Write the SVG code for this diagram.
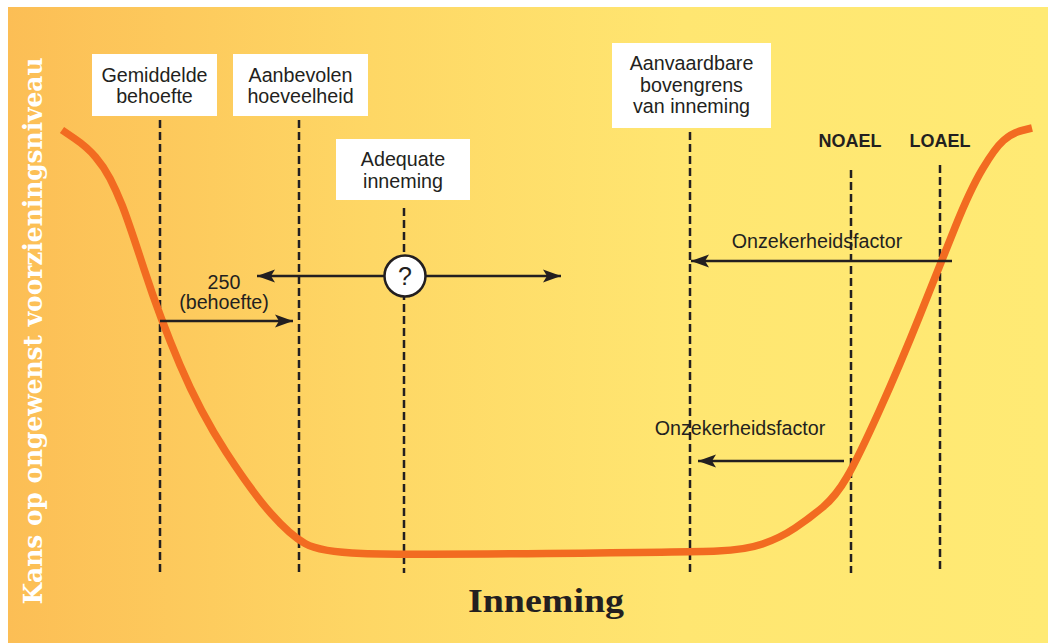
<svg xmlns="http://www.w3.org/2000/svg" width="1048" height="643" viewBox="0 0 1048 643">
<defs>
<linearGradient id="bg" x1="0" y1="0" x2="1" y2="0">
<stop offset="0" stop-color="#FCBE55"/>
<stop offset="0.35" stop-color="#FED765"/>
<stop offset="0.65" stop-color="#FFE671"/>
<stop offset="1" stop-color="#FFEA74"/>
</linearGradient>
<marker id="ah" markerUnits="userSpaceOnUse" markerWidth="20" markerHeight="16" viewBox="0 -8 20 16" refX="18" refY="0" orient="auto">
<path d="M0,-6.5 L18,0 L0,6.5 L4,0 Z" fill="#231F20"/>
</marker>
<style>
.lbl{font-family:"Liberation Sans",Arial,sans-serif;font-size:19.7px;fill:#231F20;text-anchor:middle}
.bold{font-family:"Liberation Sans",Arial,sans-serif;font-size:18px;font-weight:bold;fill:#231F20;text-anchor:middle}
.box{fill:#FFFFFF}
.dash{stroke:#231F20;stroke-width:2.5;stroke-dasharray:8 4;fill:none}
.arr{stroke:#231F20;stroke-width:2.5;fill:none}
</style>
</defs>
<rect x="0" y="0" width="1048" height="643" fill="#FFFFFF"/>
<rect x="8" y="7" width="1040" height="636" fill="url(#bg)"/>

<text transform="translate(42,331) rotate(-90)" text-anchor="middle" font-family="'DejaVu Serif','Liberation Serif',serif" font-weight="bold" font-size="26" fill="#FFFFFF" textLength="547" lengthAdjust="spacingAndGlyphs">Kans op ongewenst voorzieningsniveau</text>
<text x="546" y="612" text-anchor="middle" font-family="'Liberation Serif',serif" font-weight="bold" font-size="33" fill="#231F20" textLength="156" lengthAdjust="spacingAndGlyphs">Inneming</text>

<g id="lines">
<line class="dash" x1="160" y1="120" x2="160" y2="573"/>
<line class="dash" x1="299" y1="120" x2="299" y2="573"/>
<line class="dash" x1="404" y1="208" x2="404" y2="573"/>
<line class="dash" x1="690" y1="132" x2="690" y2="573"/>
<line class="dash" x1="851" y1="170" x2="851" y2="573"/>
<line class="dash" x1="940" y1="165" x2="940" y2="573"/>
</g>

<path id="curve" d="M62,130 L74.5,138.5 Q87,147 95.5,157 Q104,167 110,178.5 Q116,190 122,205 Q128,220 144,269 Q160,318 180,365 Q200,412 226,452 Q252,492 271,513.5 Q290,535 305,543.5 Q320,552 362,553.5 Q404,555 547,553.5 Q690,552 717.5,551 Q745,550 762.5,544 Q780,538 795,528 Q810,518 823,507 Q836,496 847,477 Q858,458 879,411.5 Q900,365 920,315 Q940,265 955,227.5 Q970,190 982.5,169 Q995,148 1003.5,140.5 Q1012,133 1022,130.5 L1032,128" fill="none" stroke="#F26B21" stroke-width="7.5" stroke-linecap="butt" stroke-linejoin="round"/>

<g id="connectors">
<line class="arr" x1="160" y1="321" x2="293" y2="321" marker-end="url(#ah)"/>
<line class="arr" x1="384" y1="276" x2="257" y2="276" marker-end="url(#ah)"/>
<line class="arr" x1="426" y1="276" x2="561" y2="276" marker-end="url(#ah)"/>
<line class="arr" x1="952" y1="261" x2="691" y2="261" marker-end="url(#ah)"/>
<line class="arr" x1="844" y1="461" x2="698" y2="461" marker-end="url(#ah)"/>
</g>

<g id="gemiddelde">
<rect class="box" x="92" y="54" width="125" height="62"/>
<text class="lbl" x="154.5" y="82">Gemiddelde</text>
<text class="lbl" x="154.5" y="103">behoefte</text>
</g>
<g id="aanbevolen">
<rect class="box" x="233" y="54" width="135" height="62"/>
<text class="lbl" x="300.5" y="82">Aanbevolen</text>
<text class="lbl" x="300.5" y="103">hoeveelheid</text>
</g>
<g id="adequate">
<rect class="box" x="336" y="139" width="134" height="61"/>
<text class="lbl" x="403" y="166">Adequate</text>
<text class="lbl" x="403" y="188">inneming</text>
</g>
<g id="aanvaardbare">
<rect class="box" x="612" y="43" width="159" height="85"/>
<text class="lbl" x="691.5" y="70">Aanvaardbare</text>
<text class="lbl" x="691.5" y="92">bovengrens</text>
<text class="lbl" x="691.5" y="113">van inneming</text>
</g>
<g id="noael"><text class="bold" x="850" y="147">NOAEL</text></g>
<g id="loael"><text class="bold" x="940" y="147">LOAEL</text></g>
<g id="question">
<circle cx="405" cy="276" r="20.5" fill="#FFFFFF" stroke="#231F20" stroke-width="2.5"/>
<text x="405" y="285" text-anchor="middle" font-family="'Liberation Sans',Arial,sans-serif" font-size="25" fill="#231F20">?</text>
</g>
<g id="label250">
<text class="lbl" x="224" y="289">250</text>
<text class="lbl" x="224" y="309">(behoefte)</text>
</g>
<g id="onz1"><text class="lbl" x="817" y="248">Onzekerheidsfactor</text></g>
<g id="onz2"><text class="lbl" x="740" y="435">Onzekerheidsfactor</text></g>
</svg>
